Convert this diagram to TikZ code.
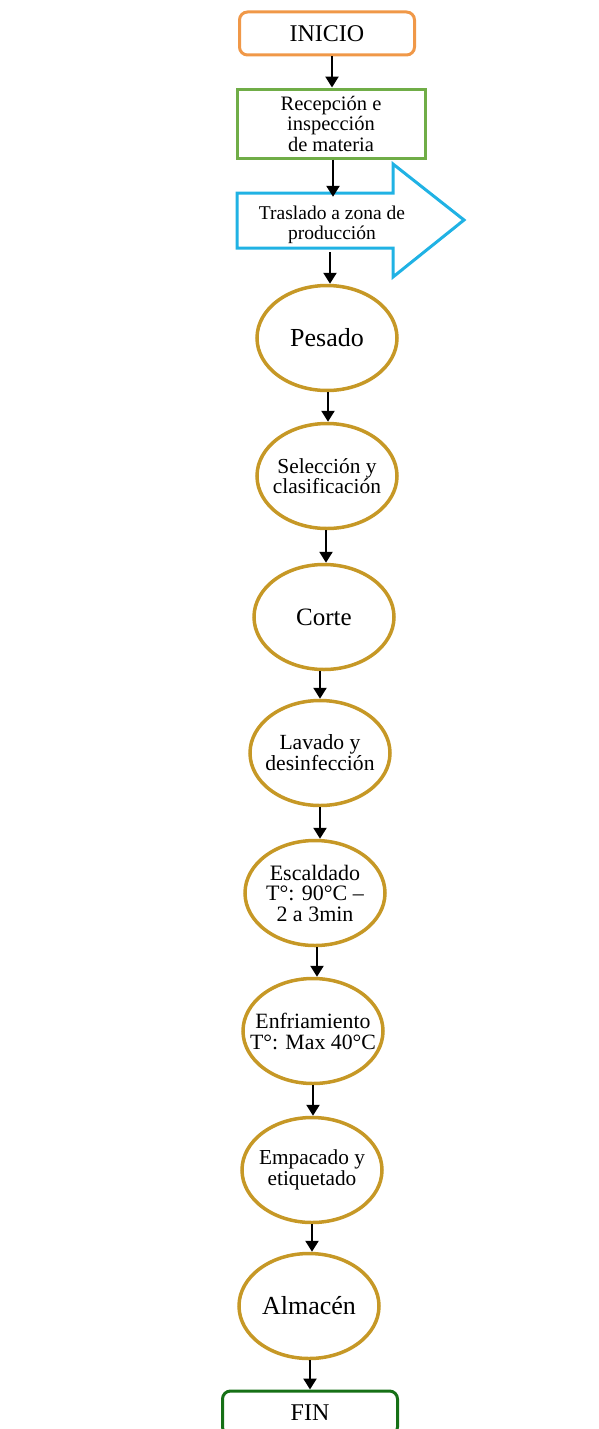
\documentclass[tikz,border=0pt]{standalone}
\usepackage{fontspec}
\setmainfont{Liberation Serif}
\usetikzlibrary{shapes.geometric,arrows.meta}
\definecolor{cOrange}{RGB}{240,152,72}
\definecolor{cGreen}{RGB}{112,173,71}
\definecolor{cBlue}{RGB}{32,178,228}
\definecolor{cGold}{RGB}{198,152,38}
\definecolor{cDark}{RGB}{22,112,22}
\begin{document}
\begin{tikzpicture}[x=1pt,y=-1pt,
  startbox/.style={draw=#1,line width=3pt,rounded corners=8pt,minimum width=175pt,inner sep=0pt,align=center},
  procbox/.style={draw=cGreen,line width=3pt,minimum width=188pt,minimum height=69pt,inner sep=0pt,align=center,font=\fontsize{20.5}{20.5}\selectfont},
  % fixed-size oval; its text is set as a centred label so the shape never grows
  oval/.style 2 args={ellipse,draw=cGold,line width=3.5pt,minimum width=140pt,minimum height=105pt,inner sep=0pt,
    label={[align=center,inner sep=0pt,font=#1]center:#2}},
  flow/.style={line width=2.4pt,-{Triangle[length=11pt,width=13pt]}}]
\useasboundingbox (0,0) rectangle (598,1429);

% terminals and first steps
\node[startbox=cOrange,minimum height=43pt,font=\fontsize{24}{24}\selectfont] (ini) at (327,33.5) {INICIO};
\node[procbox] (rec) at (331,123.5) {Recepción e\\inspección\\de materia};

% block arrow for the transfer step
\draw[cBlue,line width=3pt,line join=miter]
  (237,193) -- (393,193) -- (393,164) -- (464,220) -- (393,277) -- (393,248) -- (237,248) -- cycle;
\node[minimum width=156pt,minimum height=55pt,inner sep=0pt,align=center,
      font=\fontsize{19.5}{20}\selectfont] (tras) at (332,224.5) {Traslado a zona de\\producción};

% process ovals
\node[oval={\fontsize{26}{26}\selectfont}{Pesado}] (pes) at (327,338) {};
\node[oval={\fontsize{21.4}{20.5}\selectfont}{Selección y\\clasificación}] (sel) at (327,476) {};
\node[oval={\fontsize{25}{25}\selectfont}{Corte}] (cor) at (324,617) {};
\node[oval={\fontsize{21.6}{19.5}\selectfont}{Lavado y\\desinfección}] (lav) at (320,753) {};
\node[oval={\fontsize{22}{20.5}\selectfont}{Escaldado\\T°: 90°C –\\2 a 3min}] (esc) at (315,893) {};
\node[oval={\fontsize{21.8}{21}\selectfont}{Enfriamiento\\T°: Max 40°C}] (enf) at (313,1031) {};
\node[oval={\fontsize{21.3}{21}\selectfont}{Empacado y\\etiquetado}] (emp) at (312,1170) {};
\node[oval={\fontsize{26}{26}\selectfont}{Almacén}] (alm) at (309,1306) {};

\node[startbox=cDark,minimum height=44pt,font=\fontsize{24}{24}\selectfont] (fin) at (310,1413) {FIN};

% connectors
\draw[flow] ([xshift=5pt]ini.south) -- ([xshift=1pt]rec.north);
\draw[flow] ([xshift=2pt]rec.south) -- ([xshift=1pt]tras.north);
\draw[flow] ([xshift=-2pt]tras.south) -- ([xshift=3pt]pes.north);
\draw[flow] ([xshift=1pt]pes.south) -- ([xshift=1pt]sel.north);
\draw[flow] ([xshift=-1pt]sel.south) -- ([xshift=2pt]cor.north);
\draw[flow] ([xshift=-4pt]cor.south) -- (lav.north);
\draw[flow] (lav.south) -- ([xshift=5pt]esc.north);
\draw[flow] ([xshift=2pt]esc.south) -- ([xshift=4pt]enf.north);
\draw[flow] (enf.south) -- ([xshift=1pt]emp.north);
\draw[flow] (emp.south) -- ([xshift=3pt]alm.north);
\draw[flow] ([xshift=1pt]alm.south) -- (fin.north);
\end{tikzpicture}
\end{document}
